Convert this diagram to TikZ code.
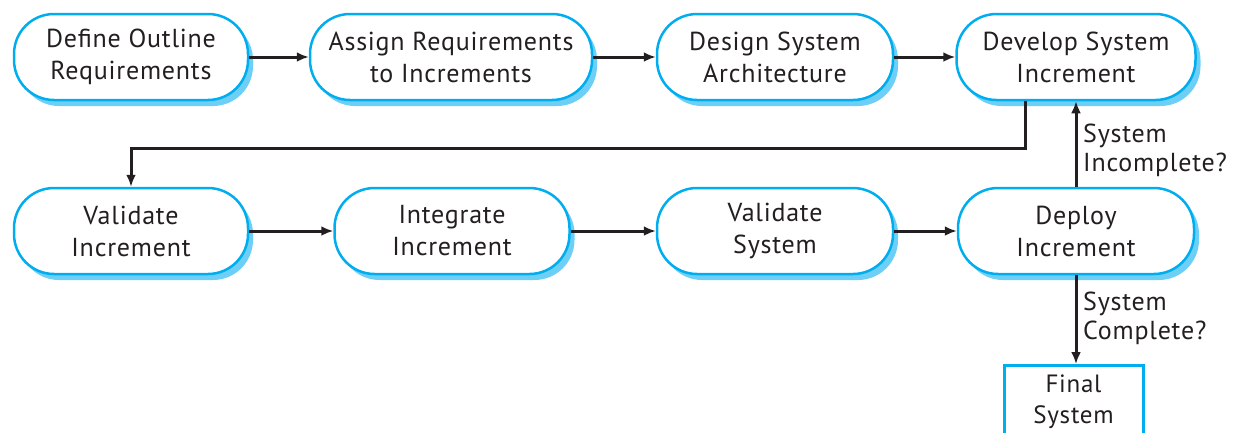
\documentclass[tikz,border=0pt]{standalone}
\usepackage{fontspec}
\setmainfont{PT Sans}[LetterSpace=3]
\usepackage{xcolor}
\usepackage{tikz}
\usetikzlibrary{arrows.meta, shadows, positioning, calc}

\definecolor{procblue}{HTML}{00AEEF}
\definecolor{shadeblue}{HTML}{6DCFF6}
\definecolor{inkgray}{HTML}{231F20}

\begin{document}
\begin{tikzpicture}[x=1pt, y=-1pt,
        stage/.style={draw=procblue, line width=2.5pt, fill=white, rounded corners=40pt,
            minimum height=86pt, align=center, text=inkgray,
            font=\fontsize{26}{32}\selectfont,
            drop shadow={shadow xshift=5pt, shadow yshift=-6pt, fill=shadeblue, opacity=1}},
        finalbox/.style={draw=procblue, line width=3pt, fill=white, align=center,
            text=inkgray, font=\fontsize{25}{31}\selectfont,
            minimum width=139pt, minimum height=72pt},
        link/.style={draw=inkgray, line width=3pt, -{Latex[length=12pt, width=10pt]}},
        guard/.style={align=left, text=inkgray, font=\fontsize{26}{29}\selectfont, inner sep=0pt}]

    \useasboundingbox (0,0) rectangle (1240,432);

    % Top row
    \node[stage, minimum width=234pt] (outline) at (131,57) {Define Outline\\Requirements};
    \node[stage, minimum width=282pt] (assign) at (451,57) {Assign Requirements\\to Increments};
    \node[stage, minimum width=236pt] (arch) at (775,57) {Design System\\Architecture};
    \node[stage, minimum width=239pt] (develop) at (1076,57) {Develop System\\Increment};

    % Bottom row
    \node[stage, minimum width=234pt] (valinc) at (131,231) {Validate\\Increment};
    \node[stage, minimum width=235pt] (integ) at (452,231) {Integrate\\Increment};
    \node[stage, minimum width=236pt] (valsys) at (775,231) {Validate\\System};
    \node[stage, minimum width=236pt] (deploy) at (1076,231) {Deploy\\Increment};

    \node[finalbox, anchor=north] (final) at (1073.5,364) {Final\\System};

    \draw[link] (outline) -- (assign);
    \draw[link] (assign) -- (arch);
    \draw[link] (arch) -- (develop);

    \coordinate (turn) at (1025,148);
    \draw[link] (develop.south -| turn) -- (turn) -| (valinc.north);% loop back

    \draw[link] (valinc) -- (integ);
    \draw[link] (integ) -- (valsys);
    \draw[link] (valsys) -- (deploy);

    \draw[link] (deploy.north) -- (develop.south);
    \draw[link] (deploy.south) -- (deploy.south |- final.north);

    \node[guard, anchor=west] (notdone) at (1083,150) {System\\Incomplete?};
    \node[guard, anchor=west] (done) at (1083,318) {System\\Complete?};
\end{tikzpicture}
\end{document}
